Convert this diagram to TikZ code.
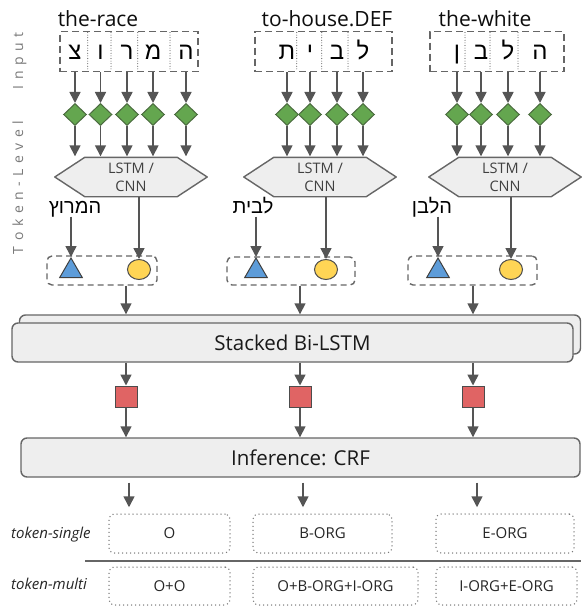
\documentclass[tikz,border=0pt]{standalone}
\usepackage{fontspec}
\setmainfont{Open Sans}
\newfontfamily\heb[Script=Hebrew]{Liberation Sans}
\usetikzlibrary{arrows.meta,shapes.geometric}
\TeXXeTstate=1
\definecolor{arrowc}{HTML}{555555}
\definecolor{greenf}{HTML}{64A64F}
\definecolor{greend}{HTML}{4B6B3F}
\definecolor{bluef}{HTML}{5D9CD9}
\definecolor{yellowf}{HTML}{FFD555}
\definecolor{redf}{HTML}{E06464}
\definecolor{boxf}{HTML}{EEEEEE}
\definecolor{boxd}{HTML}{666666}
\definecolor{sidec}{HTML}{7A7A7A}
\definecolor{dotc}{HTML}{7A7A7A}
\newcommand\lsp{\kern5.5pt}
\newcommand\drawhex[1]{\draw[hexshape] (#1.north west) -- (#1.north east) -- ([xshift=30pt]#1.east) -- (#1.south east) -- (#1.south west) -- ([xshift=-30pt]#1.west) -- cycle;}
\tikzset{
  arr/.style={draw=arrowc, line width=1.6pt, -{Triangle[width=11pt,length=11pt]}},
  inbox/.style={draw=boxd, line width=1.4pt, dash pattern=on 7pt off 4pt, minimum height=40, inner sep=0},
  divl/.style={draw=boxd, line width=1.1pt, line cap=round, dash pattern=on 0pt off 2.6pt},
  letter/.style={font=\heb\fontsize{24}{28}\selectfont, inner sep=0, anchor=base},
  hword/.style={font=\heb\fontsize{20}{23}\selectfont, inner sep=1pt, anchor=base},
  diam/.style={diamond, draw=greend, fill=greenf, line width=1pt, minimum width=23, minimum height=22, inner sep=0},
  hexn/.style={minimum width=92, minimum height=39, inner sep=0},
  hexshape/.style={draw=boxd, fill=boxf, line width=1.4pt, line join=round},
  hext/.style={font=\fontsize{14.5}{18}\selectfont, text=black!75, align=center, inner sep=0},
  tri/.style={regular polygon, regular polygon sides=3, draw=black!75, fill=bluef, line width=1pt, minimum size=26, inner sep=0},
  circ/.style={ellipse, draw=black!70, fill=yellowf, line width=1pt, minimum width=23, minimum height=20, inner sep=0},
  pbox/.style={draw=boxd, line width=1.4pt, dash pattern=on 6pt off 4pt, rounded corners=5pt, inner sep=0},
  sq/.style={draw=black!70, fill=redf, line width=1pt, minimum width=22, minimum height=21, inner sep=0},
  bigbox/.style={draw=boxd, fill=boxf, line width=1.4pt, rounded corners=6pt, minimum height=39, inner sep=0, font=\fontsize{20.5}{24}\selectfont, text=black!90},
  outbox/.style={draw=dotc, line width=1.5pt, line cap=round, dash pattern=on 0pt off 4pt, rounded corners=5pt, inner sep=0, font=\fontsize{15}{18}\selectfont, text=black!85},
  rowlab/.style={font=\itshape\fontsize{15}{18}\selectfont, text=black!85, anchor=base west, inner sep=0},
  sidelab/.style={font=\fontsize{14}{16}\selectfont, text=sidec, rotate=90, anchor=base, inner sep=0},
  title/.style={font=\fontsize{21}{25}\selectfont, text=black!95, anchor=base, inner sep=0}
}
\begin{document}
\begin{tikzpicture}[x=1pt,y=-1pt]
\useasboundingbox (0,0) rectangle (581,607);

% side labels
\node[sidelab] (slin) at (23,61) {I\lsp n\lsp p\lsp u\lsp t};
\node[sidelab] (sltok) at (23,187.5) {T\lsp o\lsp k\lsp e\lsp n\lsp -\lsp L\lsp e\lsp v\lsp e\lsp l};

% titles
\node[title] (ti1) at (98,27) {the-race};
\node[title] (ti2) at (327,27) {to-house.DEF};
\node[title] (ti3) at (485,27) {the-white};

% input boxes
\node[inbox, minimum width=138] (ib1) at (129,51.7) {};
\node[inbox, minimum width=137] (ib2) at (323.5,51.7) {};
\node[inbox, minimum width=134] (ib3) at (497,51.7) {};
\foreach \x in {87.7,111,137.7,170,296.7,321.7,348,465,490,518}
  \draw[divl] (\x,32.5) -- (\x,71);

% letters
\node[letter] (l11) at (75,60) {צ};
\node[letter] (l12) at (100.5,60) {ו};
\node[letter] (l13) at (127,60) {ר};
\node[letter] (l14) at (153,60) {מ};
\node[letter] (l15) at (186,60) {ה};
\node[letter] (l21) at (287,60) {ת};
\node[letter] (l22) at (310,60) {י};
\node[letter] (l23) at (337,60) {ב};
\node[letter] (l24) at (363,60) {ל};
\node[letter] (l31) at (457,60) {ן};
\node[letter] (l32) at (481,60) {ב};
\node[letter] (l33) at (508,60) {ל};
\node[letter] (l34) at (540,60) {ה};

% hexagons
\node[hexn] (h1) at (131,177) {};
\node[hexn] (h2) at (320,177) {};
\node[hexn] (h3) at (505,177) {};
\drawhex{h1}\drawhex{h2}\drawhex{h3}
\node[hext] (ht1) at (h1) {LSTM /\\CNN};
\node[hext] (ht2) at (h2) {LSTM /\\CNN};
\node[hext] (ht3) at (h3) {LSTM /\\CNN};

% diamonds and arrows
\foreach \n/\b/\h in {11/1/1,12/1/1,13/1/1,14/1/1,15/1/1,21/2/2,22/2/2,23/2/2,24/2/2,31/3/3,32/3/3,33/3/3,34/3/3}{
  \node[diam] (d\n) at (l\n |- 0,114.5) {};
  \draw[arr] (l\n |- ib\b.south) -- (d\n);
  \draw[arr] (d\n) -- ([yshift=1pt]d\n |- h\h.north);
}

% hebrew words
\node[hword] (hw1) at (75,213.5) {\beginR המרוץ\endR};
\node[hword] (hw2) at (253,213.5) {\beginR לבית\endR};
\node[hword] (hw3) at (432,213.5) {\beginR הלבן\endR};

% dashed pair boxes
\node[pbox, minimum width=110, minimum height=29] (pb1) at (102,270.5) {};
\node[pbox, minimum width=128, minimum height=28] (pb2) at (291,271) {};
\node[pbox, minimum width=129, minimum height=29] (pb3) at (472.5,270.5) {};

\node[tri] (t1) at (71,271) {};
\node[tri] (t2) at (256,271) {};
\node[tri] (t3) at (438,271) {};
\node[circ] (c1) at (139,269.5) {};
\node[circ] (c2) at (326,269.5) {};
\node[circ] (c3) at (511,269.5) {};

\draw[arr] ([yshift=-3pt]t1 |- hw1.base) -- (t1.north);
\draw[arr] ([yshift=-3pt]t2 |- hw2.base) -- (t2.north);
\draw[arr] ([yshift=-3pt]t3 |- hw3.base) -- (t3.north);
\draw[arr] (c1 |- h1.south) -- (c1.north);
\draw[arr] (c2 |- h2.south) -- (c2.north);
\draw[arr] (c3 |- h3.south) -- (c3.north);

% stacked bi-lstm
\node[bigbox, minimum width=561] (blback) at (300,334.5) {};
\node[bigbox, minimum width=561] (bl) at (292.5,342.5) {Stacked Bi-LSTM};

% red squares
\node[sq] (sq1) at (126,396.5) {};
\node[sq] (sq2) at (300,396.5) {};
\node[sq] (sq3) at (473,396.5) {};

\draw[arr] (pb1.south -| sq1) -- (blback.north -| sq1);
\draw[arr] (pb2.south -| sq2) -- (blback.north -| sq2);
\draw[arr] (pb3.south -| sq3) -- (blback.north -| sq3);
\foreach \i in {1,2,3}{
  \draw[arr] (bl.south -| sq\i) -- (sq\i);
}

% CRF
\node[bigbox, minimum width=559] (crf) at (300.5,457.5) {Inference: CRF};
\foreach \i in {1,2,3}{
  \draw[arr] (sq\i) -- (crf.north -| sq\i);
}

% outputs
\node[rowlab] (rl1) at (11,538.5) {token-single};
\node[rowlab] (rl2) at (11,589) {token-multi};

\node[outbox, minimum width=121, minimum height=39] (ts1) at (169.5,533.5) {O};
\node[outbox, minimum width=139, minimum height=39] (ts2) at (322.5,533.5) {B-ORG};
\node[outbox, minimum width=138, minimum height=39] (ts3) at (505,533.5) {E-ORG};
\node[outbox, minimum width=121, minimum height=38] (tm1) at (169.5,586) {O+O};
\node[outbox, minimum width=165, minimum height=38] (tm2) at (335.5,586) {O+B-ORG+I-ORG};
\node[outbox, minimum width=141, minimum height=38] (tm3) at (506.5,586) {I-ORG+E-ORG};

\coordinate (o1) at (129,0);
\coordinate (o2) at (303,0);
\coordinate (o3) at (477,0);
\foreach \i in {1,2,3}{
  \draw[arr] ([yshift=-5pt]crf.south -| o\i) -- ([yshift=6pt]ts\i.north -| o\i);
}

\coordinate (sepl) at (85,561);
\coordinate (sepr) at (581,561);
\draw[draw=boxd, line width=1.5pt] (sepl) -- (sepr);
\end{tikzpicture}
\end{document}
